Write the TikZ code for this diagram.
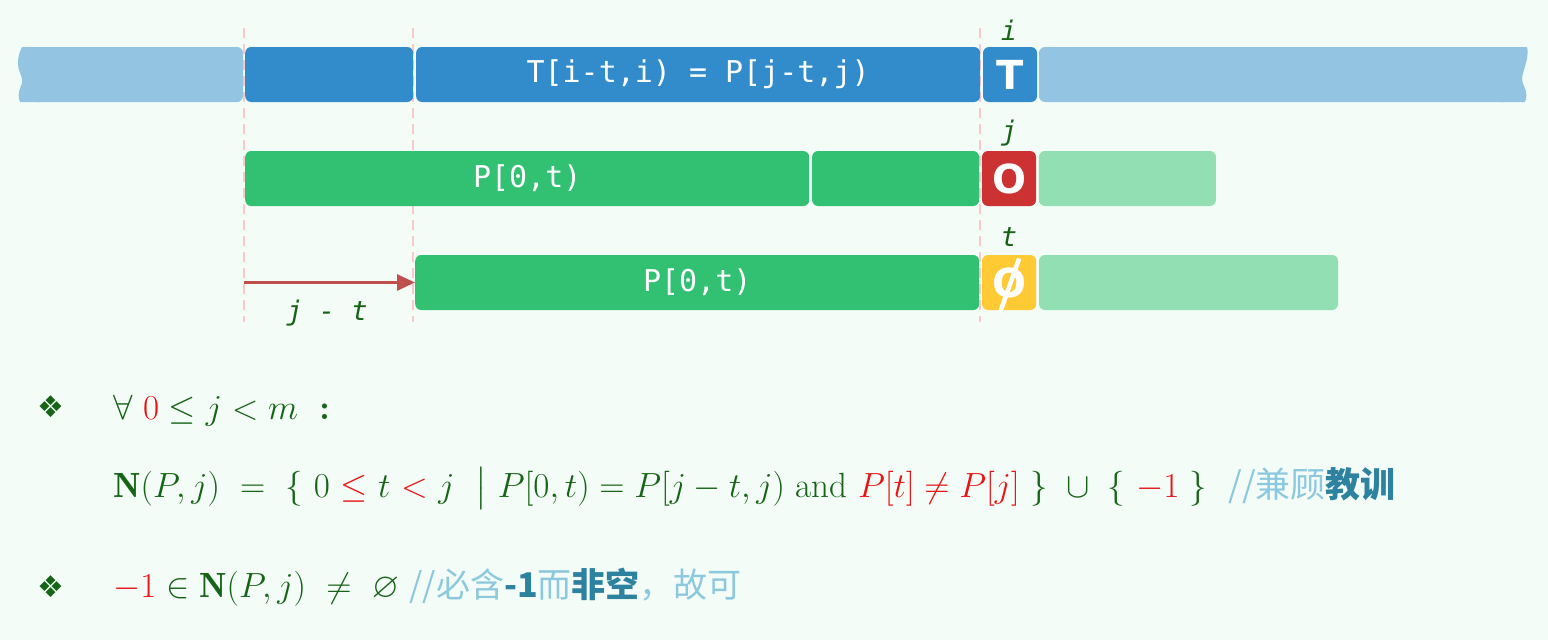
\RequirePackage{fix-cm}
\documentclass[tikz,border=0pt]{standalone}
\usepackage{amsmath,amssymb}
\usepackage{fontspec}
\newfontfamily\barfont{DejaVu Sans Mono}
\newfontfamily\cellfont{DejaVu Sans}
\newfontfamily\cjkfont{Noto Sans CJK SC}
\usetikzlibrary{arrows.meta,positioning}

\definecolor{bgmint}{RGB}{243,252,247}
\definecolor{lblue}{RGB}{147,196,225}
\definecolor{dblue}{RGB}{50,140,203}
\definecolor{pgreen}{RGB}{50,192,114}
\definecolor{lgreen}{RGB}{147,223,180}
\definecolor{cred}{RGB}{204,50,50}
\definecolor{cyellow}{RGB}{255,202,51}
\definecolor{guidepink}{RGB}{255,200,200}
\definecolor{arrowred}{RGB}{192,80,77}
\definecolor{txtgreen}{RGB}{22,100,22}
\definecolor{mred}{RGB}{235,20,20}
\definecolor{cmtlight}{RGB}{140,200,222}
\definecolor{cmtbold}{RGB}{45,130,160}

\newcommand{\cmtlt}[1]{{\color{cmtlight}#1}}
\newcommand{\cmtbf}[1]{{\bfseries\color{cmtbold}#1}}
\newcommand{\rd}[1]{{\color{mred}#1}}

\begin{document}
\begin{tikzpicture}
[x=1pt,y=-1pt,
node distance=2.5pt,
bar/.style={rectangle,rounded corners=6pt,minimum height=55pt,inner sep=0pt,
  anchor=west,text=white,font=\barfont\fontsize{30}{32}\selectfont},
cell/.style={bar,minimum width=54pt,font=\cellfont\bfseries\fontsize{40}{40}\selectfont},
idx/.style={text=txtgreen,inner sep=0pt,font=\barfont\itshape\fontsize{27}{28}\selectfont},
guide/.style={draw=guidepink,line width=2pt,dash pattern=on 10pt off 6pt},
shiftarrow/.style={draw=arrowred,line width=3pt,-{Triangle[length=18pt,width=16pt]}},
mathline/.style={anchor=base west,inner sep=0pt,text=txtgreen,font=\fontsize{35}{40}\selectfont},
bullet/.style={anchor=base west,inner sep=0pt,text=txtgreen,font=\cellfont\fontsize{30}{30}\selectfont},
cmt/.style={font=\cjkfont\fontsize{35}{36}\selectfont}]

\fill[bgmint] (0,0) rectangle (1548,640);
\useasboundingbox (0,0) rectangle (1548,640);

% guides
\foreach \x/\n in {244/a,413/b,980/c} {
  \coordinate (top\n) at (\x,28);
  \coordinate (bot\n) at (\x,322);
  \draw[guide] (top\n) -- (bot\n);
}

% text row
\fill[lblue,rounded corners=6pt] (30,47) rectangle (243,102);
\fill[lblue] (22,47) .. controls (18,55) and (17,62) .. (19,70)
  .. controls (21,76) and (24,80) .. (21,86)
  .. controls (18,92) and (18,98) .. (20,102) -- (40,102) -- (40,47) -- cycle;
\node[bar,fill=dblue,minimum width=168pt] (t1) at (245,74.5) {};
\node[bar,fill=dblue,minimum width=564pt] (t2) [right=of t1] {T[i-t,i) = P[j-t,j)};
\node[cell,fill=dblue] (ti) [right=of t2] {T};
\fill[lblue,rounded corners=6pt] (1039,47) rectangle (1510,102);
\fill[lblue] (1500,47) -- (1527,47) .. controls (1529,55) and (1526,62) .. (1524,70)
  .. controls (1522,76) and (1521,80) .. (1524,86)
  .. controls (1527,92) and (1527,98) .. (1525,102) -- (1500,102) -- cycle;

% pattern row
\node[bar,fill=pgreen,minimum width=564pt] (p1) at (245,178.5) {P[0,t)};
\node[bar,fill=pgreen,minimum width=167pt] (p2) [right=of p1] {};
\node[cell,fill=cred] (pj) [right=of p2] {O};
\node[bar,fill=lgreen,minimum width=177pt] (p3) [right=of pj] {};

% shifted pattern row
\node[bar,fill=pgreen,minimum width=564pt] (s1) at (415,282.5) {P[0,t)};
\node[cell,fill=cyellow] (st) [right=of s1] {O};
\node[bar,fill=lgreen,minimum width=299pt] (s2) [right=of st] {};
\draw[white,line width=4.5pt] ([xshift=-9pt,yshift=-30pt]st.center) -- ([xshift=10pt,yshift=24pt]st.center);

% indices
\node[idx] (li) at (1009,30) {i};
\node[idx] (lj) at (1009,133) {j};
\node[idx] (lt) at (1009,237) {t};

\coordinate (from) at (244,282.5);
\draw[shiftarrow] (from) -- (s1.west);
\node[idx] (shiftlabel) at (327,313) {j - t};

% formulas
\node[bullet] (b1) at (37,417) {❖};
\node[mathline] (f1) at (113,419) {$\forall\ \rd{0}\le j<m$\ \ \textbf{:}};
\node[mathline] (f2) at (113,497) {$\mathbf{N}(P,j)\ =\ \{\ 0\ \rd{\le}\ t\ \rd{<}\ j\ \ \big|\ P[0,t)=P[j-t,j)\ \text{and}\ \rd{P[t]\ne P[j]}\ \}\ \cup\ \{\ \rd{-1}\ \}$\ \ {\cjkfont\fontsize{35}{36}\selectfont\cmtlt{//兼顾}\cmtbf{教训}}};
\node[bullet] (b2) at (37,597) {❖};
\node[mathline] (f3) at (113,597) {$\rd{-1}\in\mathbf{N}(P,j)\ \ne\ \varnothing$\ {\cjkfont\fontsize{34}{36}\selectfont\cmtlt{//必含}\cmtbf{-1}\cmtlt{而}\cmtbf{非空}\cmtlt{，故可}}};
\end{tikzpicture}
\end{document}
